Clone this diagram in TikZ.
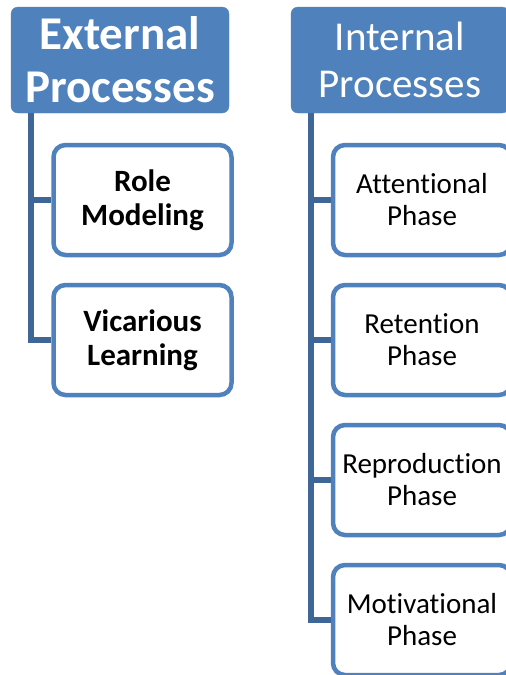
\documentclass[tikz,border=0pt]{standalone}
\usepackage{fontspec}
\setmainfont{Carlito}[Ligatures=NoCommon]
\definecolor{hdrblue}{HTML}{4F81BD}
\definecolor{trunk}{HTML}{3E6797}
\begin{document}
\begin{tikzpicture}[x=1pt,y=-1pt,
  header/.style={fill=hdrblue, draw=hdrblue, rounded corners=7pt,
    minimum width=218pt, minimum height=106pt, inner sep=0pt,
    text=white, align=center},
  leaf/.style={draw=hdrblue, line width=4.5pt, fill=white, rounded corners=12pt,
    minimum width=178pt, minimum height=110pt, inner sep=0pt, align=center},
  conn/.style={draw=trunk, line width=5.5pt}]
\useasboundingbox (0,0) rectangle (506,675);
\clip (0,0) rectangle (506,675);

% column headers
\node[header, font={\fontsize{47}{53}\selectfont\bfseries}] (ext) at (120,60) {External\\Processes};
\node[header, font={\fontsize{41}{47}\selectfont}] (int) at (400,60) {Internal\\Processes};

% left column
\node[leaf, font={\fontsize{31}{34}\selectfont\bfseries}] (role) at (142.5,200) {Role\\Modeling};
\node[leaf, font={\fontsize{31}{34}\selectfont\bfseries}] (vic) at (142.5,340) {Vicarious\\Learning};

% right column
\node[leaf, font={\fontsize{29}{32}\selectfont}] (att) at (422,200) {Attentional\\Phase};
\node[leaf, font={\fontsize{29}{32}\selectfont}] (ret) at (422,340) {Retention\\Phase};
\node[leaf, font={\fontsize{29}{32}\selectfont}] (rep) at (422,480) {Reproduction\\Phase};
\node[leaf, font={\fontsize{29}{32}\selectfont}] (mot) at (422,620) {Motivational\\Phase};

% trunks and branches
\coordinate (et) at (31,113);
\coordinate (it) at (311,113);
\draw[conn] (et) |- (vic.west);
\draw[conn] (et |- role.west) -- (role.west);
\draw[conn] (it) |- (mot.west);
\draw[conn] (it |- att.west) -- (att.west);
\draw[conn] (it |- ret.west) -- (ret.west);
\draw[conn] (it |- rep.west) -- (rep.west);
\end{tikzpicture}
\end{document}
